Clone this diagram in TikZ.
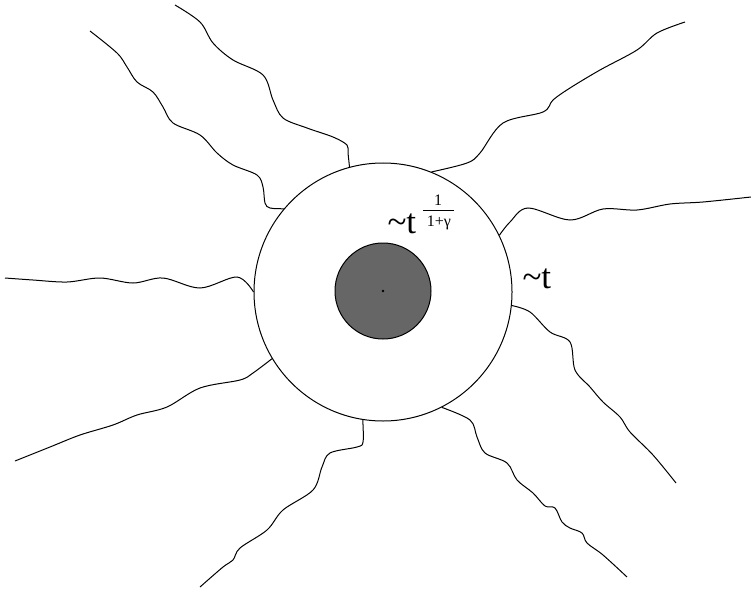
\documentclass[tikz,border=0pt]{standalone}
\usepackage{fontspec}
\setmainfont{Liberation Serif}
\begin{document}
\begin{tikzpicture}[x=1pt,y=-1pt,line width=1pt,
  ray/.style={line width=1pt,smooth,tension=0.55},
  big/.style={font=\rmfamily\fontsize{35}{38}\selectfont},
  small/.style={font=\rmfamily\fontsize{16}{18}\selectfont,inner sep=0pt}]
\useasboundingbox (0,0) rectangle (751,588);
\node[circle,draw,minimum size=258pt,inner sep=0pt] (outer) at (383,292) {};
\node[circle,draw,fill=black!60,minimum size=96pt,inner sep=0pt] (inner) at (383,291) {};
\fill (inner.center) circle (1.4pt);
% rays
\draw[ray] plot coordinates {(outer.105.6) (348,153) (347,145) (333,137) (307,128) (283,118) (273,100) (263,75) (233,60) (213,43) (200,22) (175,5)};
\draw[ray] plot coordinates {(outer.140.9) (270,208) (265,203) (263,187) (257,175) (233,165) (217,153) (200,135) (173,123) (163,107) (153,92) (137,82) (127,67) (117,53) (90,31)};
\draw[ray] plot coordinates {(outer.180.9) (237,277) (200,288) (163,278) (133,283) (100,278) (67,282) (33,280) (5,278)};
\draw[ray] plot coordinates {(outer.211.7) (253,373) (240,380) (200,388) (167,407) (137,415) (113,425) (80,435) (50,447) (15,461)};
\draw[ray] plot coordinates {(outer.261) (363,442) (357,447) (330,453) (322,467) (313,490) (283,510) (267,530) (240,548) (233,560) (223,567) (200,587)};
\draw[ray] plot coordinates {(outer.297) (470,420) (477,437) (485,453) (507,463) (517,480) (533,493) (545,506) (555,508) (562,522) (570,528) (582,533) (587,543) (603,555) (627,577)};
\draw[ray] plot coordinates {(outer.354.3) (530,312) (550,332) (570,342) (575,370) (590,387) (603,402) (620,417) (630,432) (653,455) (676,483)};
\draw[ray] plot coordinates {(outer.26) (510,222) (528,208) (570,220) (603,209) (637,210) (670,204) (703,202) (751,197)};
\draw[ray] plot coordinates {(outer.68.8) (467,163) (480,153) (503,123) (543,112) (553,100) (570,88) (600,70) (637,50) (657,33) (685,22)};
% labels
\node[big,anchor=base west,inner sep=0pt] (lt1) at (387,233) {\textasciitilde t};
\node[small,anchor=base] (num) at (438,205) {1};
\node[small,anchor=base] (den) at (439,226) {1+γ};
\draw[line width=0.8pt] (423,210) -- (454,210);
\node[big,anchor=base west,inner sep=0pt] (lt2) at (522,288) {\textasciitilde t};
\end{tikzpicture}
\end{document}
